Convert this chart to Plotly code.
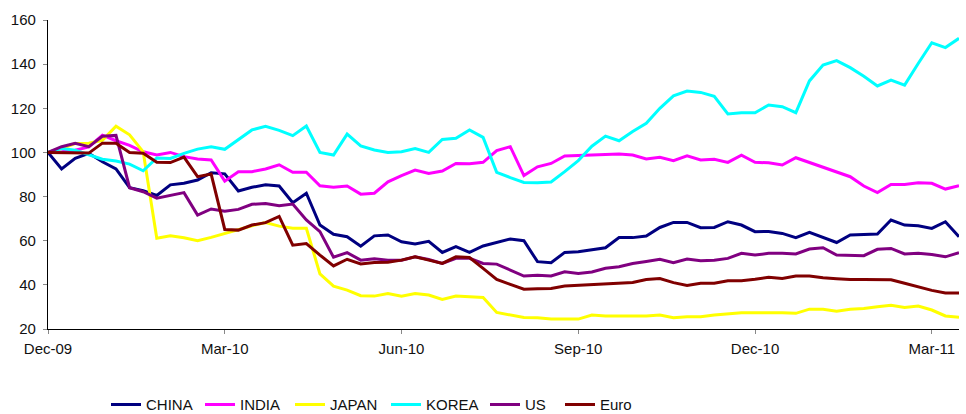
import pandas as pd
import plotly.graph_objects as go

# Weekly observation dates (Fridays), Dec-09 .. Apr-11
dates = pd.date_range("2009-12-25", periods=68, freq="7D")
tick_dates = dates[::13]

china = [100, 92.5, 97.3, 99.6, 95.8, 92.5, 84, 82.7, 80.5, 85.3,
         86, 87.5, 90.8, 90.3, 82.5, 84.2, 85.3, 84.8, 77.2, 81.5,
         67.1, 62.9, 61.8, 57.5, 62.2, 62.6, 59.5, 58.5, 59.7, 54.7,
         57.3, 54.7, 57.6, 59.1, 60.8, 60, 50.5, 50, 54.7, 55,
         55.8, 56.8, 61.4, 61.4, 62.1, 66, 68.3, 68.3, 65.9, 66,
         68.6, 67.1, 64.1, 64.2, 63.3, 61.4, 63.8, 61.4, 59.2, 62.6,
         62.8, 63, 69.4, 67.1, 66.8, 65.6, 68.6, 61.8]
india = [100, 100.3, 101, 102.5, 107.8, 105.3, 103.2, 100.3, 98.8, 100,
         98.1, 97, 96.6, 87, 91.2, 91.3, 92.5, 94.4, 91, 91,
         84.9, 84.2, 84.8, 81.1, 81.5, 86.7, 89.5, 92, 90.5, 91.6,
         95, 94.9, 95.5, 100.8, 102.6, 89.5, 93.5, 95, 98.4, 98.7,
         98.7, 99.1, 99.3, 98.8, 97, 97.8, 96.3, 98.5, 96.6, 96.9,
         95.5, 98.8, 95.5, 95.3, 94.3, 97.6, 95.5, 93.2, 91, 89,
         84.8, 81.8, 85.5, 85.5, 86.3, 86, 83.4, 84.9]
japan = [100, 101.8, 104, 104.2, 105.5, 111.9, 108, 100.3, 61.1, 62.2,
         61.3, 60, 61.5, 63.3, 64.8, 66.8, 68.2, 66.6, 65.6, 65.6,
         45, 39.4, 37.6, 35.1, 34.9, 36.1, 34.9, 36.1, 35.4, 33.4,
         34.9, 34.6, 34.3, 27.5, 26.3, 25.2, 25.1, 24.5, 24.5, 24.5,
         26.3, 25.9, 25.9, 25.9, 25.9, 26.3, 25.1, 25.6, 25.6, 26.3,
         26.8, 27.4, 27.4, 27.5, 27.4, 27.1, 29, 28.9, 28.1, 28.9,
         29.3, 30.1, 30.8, 29.8, 30.4, 28.6, 25.9, 25.3]
korea = [100, 101.8, 101, 98.8, 96.9, 96.1, 94.7, 91.7, 97.5, 97.3,
         99.6, 101.5, 102.6, 101.4, 105.6, 110.2, 111.8, 110, 107.6, 112,
         100, 98.8, 108.3, 103, 101.1, 100, 100.3, 101.8, 100, 105.9,
         106.4, 110.2, 106.8, 91, 88.6, 86.4, 86.3, 86.6, 91.3, 96.3,
         102.8, 107.4, 105.3, 109.5, 113.2, 120, 125.6, 127.8, 127.2, 125.4,
         117.4, 118, 118, 121.5, 120.7, 118, 132.4, 139.6, 141.6, 138.4,
         134.5, 130.1, 132.8, 130.5, 140.3, 149.7, 147.5, 151.7]
us = [100, 102.6, 104.1, 102.6, 107.3, 107.7, 84, 82.2, 79.3, 80.7,
      81.8, 71.6, 74.4, 73.4, 74.2, 76.5, 76.9, 75.9, 76.6, 69.4,
      64.1, 52.5, 54.6, 51.2, 51.8, 51.2, 51.2, 52.7, 51.5, 49.7,
      52, 52, 49.7, 49.4, 46.7, 44, 44.4, 44, 45.9, 45.2,
      45.8, 47.5, 48.2, 49.7, 50.6, 51.6, 50, 51.7, 50.9, 51.2,
      52, 54.3, 53.5, 54.3, 54.3, 54, 56.2, 56.8, 53.5, 53.2,
      53.2, 56.1, 56.5, 54, 54.3, 53.8, 52.7, 54.6]
euro = [100, 99.8, 99.7, 99.7, 104.2, 104.2, 100, 99.6, 95.6, 95.4,
        97.9, 89, 90.2, 65.1, 64.8, 67.1, 68.2, 71, 58, 58.7,
        53.5, 48.6, 51.6, 49.5, 50.1, 50.2, 51.2, 52.7, 51.2, 49.7,
        52.7, 52.4, 47.5, 42.5, 40.2, 38, 38.2, 38.4, 39.5, 39.8,
        40.2, 40.7, 41, 41.1, 42.4, 42.9, 41, 39.7, 40.7, 40.7,
        41.9, 41.9, 42.5, 43.4, 42.9, 44, 44, 43.2, 42.8, 42.4,
        42.4, 42.5, 42.3, 40.7, 39, 37.5, 36.3, 36.3]

series_names = ["CHINA", "INDIA", "JAPAN", "KOREA", "US", "Euro"]
series_values = [china, india, japan, korea, us, euro]
series_colors = ["#000080", "#FF00FF", "#FFFF00", "#00FFFF", "#800080", "#800000"]

y_ticks = [20, 40, 60, 80, 100, 120, 140, 160]

# legend text start positions (pixels) for each series entry
legend_text_px = [146, 240, 330, 426, 525, 600]

PLOT_L, PLOT_W = 48, 911
fig = go.Figure()
legend_layout = {}
for k, (name, vals, col, tx) in enumerate(zip(series_names, series_values,
                                              series_colors, legend_text_px)):
    lg = "legend" if k == 0 else f"legend{k + 1}"
    fig.add_trace(go.Scatter(x=dates, y=vals, mode="lines", name=name,
                             line=dict(color=col, width=3), legend=lg))
    legend_layout[lg] = dict(
        orientation="h", x=(tx - 40 - PLOT_L) / PLOT_W, y=-0.245,
        xanchor="left", yanchor="middle", bgcolor="rgba(0,0,0,0)",
        font=dict(family="Liberation Sans, Arial, sans-serif", size=15, color="#111"),
        itemwidth=30)

fig.update_layout(
    width=966, height=414, autosize=False,
    margin=dict(l=PLOT_L, r=966 - PLOT_L - PLOT_W, t=20, b=85, autoexpand=False),
    paper_bgcolor="white", plot_bgcolor="white",
    font=dict(family="Liberation Sans, Arial, sans-serif", size=15, color="#111"),
    showlegend=True,
    **legend_layout,
)
fig.update_xaxes(range=[dates[0], dates[-1]], tickvals=list(tick_dates), tickformat="%b-%y",
                 showline=True, linecolor="black", linewidth=1.2,
                 ticks="outside", ticklen=4, tickcolor="#888", showgrid=False,
                 zeroline=False, ticklabelstandoff=2, automargin=False)
fig.update_yaxes(range=[20, 160], tickvals=y_ticks, showline=True, linecolor="black",
                 linewidth=1.2, ticks="outside", ticklen=4, tickcolor="#888",
                 showgrid=False, zeroline=False, ticklabelstandoff=4, automargin=False)

fig.write_html("out.html",
               config={"responsive": False, "displayModeBar": False},
               post_script="document.body.style.margin='0';document.body.style.overflow='hidden';")
